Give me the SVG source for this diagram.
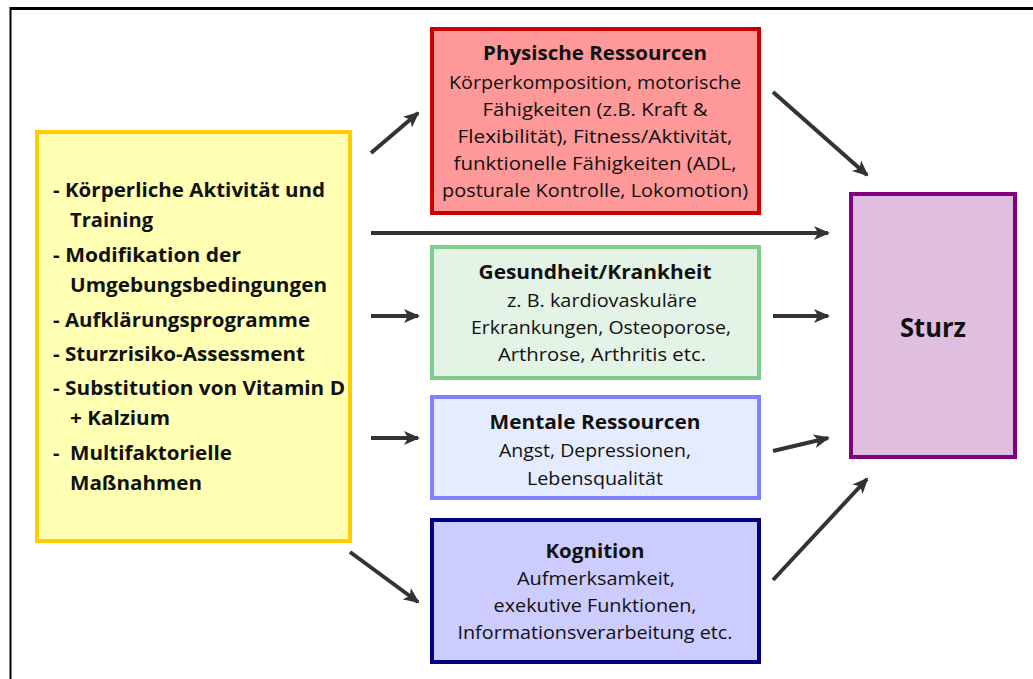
<svg xmlns="http://www.w3.org/2000/svg" width="1033" height="679" viewBox="0 0 1033 679">
  <style>
    .box { stroke-width: 4; }
    .t { font-family: "Open Sans", "Noto Sans", "Liberation Sans", sans-serif; fill: #111; }
    .title { font-size: 19px; font-weight: bold; text-anchor: middle; }
    .body { font-size: 17.5px; text-anchor: middle; }
    .list { font-size: 20px; font-weight: bold; }
    .conn { stroke: #333; stroke-width: 4; fill: none; marker-end: url(#head); }
  </style>
  <defs>
    <marker id="head" markerUnits="userSpaceOnUse" markerWidth="16" markerHeight="16" viewBox="0 0 16 16" refX="14" refY="8" orient="auto">
      <path d="M0,1 L16,8 L0,15 L4,8 Z" fill="#333"/>
    </marker>
  </defs>

  <rect width="1033" height="679" fill="#fff"/>
  <!-- frame -->
  <g id="frame" stroke="#000" fill="none">
    <line x1="10" y1="8.5" x2="1033" y2="8.5" stroke-width="3"/>
    <line x1="10.5" y1="7" x2="10.5" y2="679" stroke-width="2"/>
  </g>

  <!-- measures -->
  <g id="massnahmen">
    <rect class="box" x="37" y="132" width="313" height="409" fill="#FFFFB3" stroke="#FFCC00"/>
    <g class="t list">
      <text x="53" y="197" textLength="272" lengthAdjust="spacingAndGlyphs">- Körperliche Aktivität und</text>
      <text x="70" y="227" textLength="83" lengthAdjust="spacingAndGlyphs">Training</text>
      <text x="53" y="262" textLength="188" lengthAdjust="spacingAndGlyphs">- Modifikation der</text>
      <text x="70" y="292" textLength="257" lengthAdjust="spacingAndGlyphs">Umgebungsbedingungen</text>
      <text x="53" y="327" textLength="257" lengthAdjust="spacingAndGlyphs">- Aufklärungsprogramme</text>
      <text x="53" y="361" textLength="252" lengthAdjust="spacingAndGlyphs">- Sturzrisiko-Assessment</text>
      <text x="53" y="395" textLength="292" lengthAdjust="spacingAndGlyphs">- Substitution von Vitamin D</text>
      <text x="70" y="425" textLength="100" lengthAdjust="spacingAndGlyphs">+ Kalzium</text>
      <text x="53" y="460">-</text>
      <text x="70" y="460" textLength="162" lengthAdjust="spacingAndGlyphs">Multifaktorielle</text>
      <text x="70" y="490" textLength="132" lengthAdjust="spacingAndGlyphs">Maßnahmen</text>
    </g>
  </g>

  <g id="physisch">
    <rect class="box" x="432" y="29" width="327" height="184" fill="#FF9999" stroke="#CC0000"/>
    <g class="t">
      <text class="title" x="595" y="60" textLength="224" lengthAdjust="spacingAndGlyphs">Physische Ressourcen</text>
      <text class="body" x="595" y="89" textLength="292" lengthAdjust="spacingAndGlyphs">Körperkomposition, motorische</text>
      <text class="body" x="595" y="116" textLength="225" lengthAdjust="spacingAndGlyphs">Fähigkeiten (z.B. Kraft &amp;</text>
      <text class="body" x="595" y="143" textLength="275" lengthAdjust="spacingAndGlyphs">Flexibilität), Fitness/Aktivität,</text>
      <text class="body" x="595" y="170" textLength="283" lengthAdjust="spacingAndGlyphs">funktionelle Fähigkeiten (ADL,</text>
      <text class="body" x="595" y="197" textLength="306" lengthAdjust="spacingAndGlyphs">posturale Kontrolle, Lokomotion)</text>
    </g>
  </g>

  <g id="gesundheit">
    <rect class="box" x="432" y="247" width="327" height="131" fill="#E3F3E6" stroke="#7FCC8C"/>
    <g class="t">
      <text class="title" x="595" y="279" textLength="233" lengthAdjust="spacingAndGlyphs">Gesundheit/Krankheit</text>
      <text class="body" x="602" y="307" textLength="190" lengthAdjust="spacingAndGlyphs">z. B. kardiovaskuläre</text>
      <text class="body" x="601" y="334" textLength="260" lengthAdjust="spacingAndGlyphs">Erkrankungen, Osteoporose,</text>
      <text class="body" x="602" y="361" textLength="208" lengthAdjust="spacingAndGlyphs">Arthrose, Arthritis etc.</text>
    </g>
  </g>

  <g id="mental">
    <rect class="box" x="432" y="397" width="327" height="101" fill="#E6ECFF" stroke="#7F7FFF"/>
    <g class="t">
      <text class="title" x="595" y="429" textLength="211" lengthAdjust="spacingAndGlyphs">Mentale Ressourcen</text>
      <text class="body" x="595" y="457" textLength="192" lengthAdjust="spacingAndGlyphs">Angst, Depressionen,</text>
      <text class="body" x="595" y="485" textLength="136" lengthAdjust="spacingAndGlyphs">Lebensqualität</text>
    </g>
  </g>

  <g id="kognition">
    <rect class="box" x="432" y="520" width="327" height="142" fill="#CCCCFF" stroke="#000080"/>
    <g class="t">
      <text class="title" x="595" y="558" textLength="99" lengthAdjust="spacingAndGlyphs">Kognition</text>
      <text class="body" x="596" y="585" textLength="158" lengthAdjust="spacingAndGlyphs">Aufmerksamkeit,</text>
      <text class="body" x="595" y="612" textLength="203" lengthAdjust="spacingAndGlyphs">exekutive Funktionen,</text>
      <text class="body" x="595" y="639" textLength="275" lengthAdjust="spacingAndGlyphs">Informationsverarbeitung etc.</text>
    </g>
  </g>

  <g id="sturz">
    <rect class="box" x="851" y="194" width="164" height="263" fill="#DFBEDF" stroke="#800080"/>
    <text class="t" x="933" y="337" font-size="26" font-weight="bold" text-anchor="middle" textLength="66" lengthAdjust="spacingAndGlyphs">Sturz</text>
  </g>

  <!-- connectors -->
  <g id="connectors">
    <line class="conn" x1="371" y1="153" x2="418" y2="113"/>
    <line class="conn" x1="371" y1="233" x2="828" y2="233"/>
    <line class="conn" x1="371" y1="316" x2="418" y2="316"/>
    <line class="conn" x1="371" y1="438" x2="418" y2="438"/>
    <line class="conn" x1="350" y1="552" x2="418" y2="602"/>
    <line class="conn" x1="773" y1="92" x2="867" y2="175"/>
    <line class="conn" x1="773" y1="316" x2="828" y2="316"/>
    <line class="conn" x1="773" y1="451" x2="828" y2="438"/>
    <line class="conn" x1="773" y1="580" x2="867" y2="479"/>
  </g>
</svg>
